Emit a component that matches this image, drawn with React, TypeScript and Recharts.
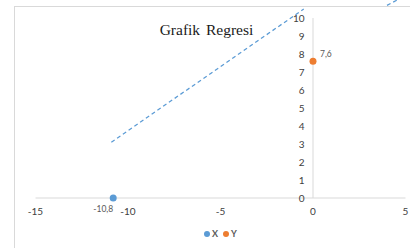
import React from 'react';
import { ComposedChart, Scatter, XAxis, YAxis, Legend } from 'recharts';

const title = 'Grafik Regresi';
const seriesNames = ['X', 'Y'];
const xSeries = [{ x: -10.8, y: 0 }];
const ySeries = [{ x: 0, y: 7.6 }];
const trendLine = [
  { x: -10.9, y: 3.1 },
  { x: -0.5, y: 10.5 },
];
const trendLine2 = [
  { x: 4.0, y: 10.7 },
  { x: 4.55, y: 11.0 },
];
const xTicks = [-15, -10, -5, 0, 5];
const yTicks = [0, 1, 2, 3, 4, 5, 6, 7, 8, 9, 10];
const yTickPoints = yTicks.map((v) => ({ x: 0, y: v }));
const yAxisSegment = [
  { x: 0, y: yTicks[0] },
  { x: 0, y: yTicks[yTicks.length - 1] },
];

const BLUE = '#5b9bd5';
const ORANGE = '#ed7d31';
const GRID = '#d9d9d9';
const TEXT = '#595959';
const FONT = 'Lato, "Open Sans", sans-serif';

const fmt = (v: number) => String(v).replace('.', ',');

const Empty = () => <g />;

export default function App() {
  return (
    <div style={{ position: 'absolute', left: 0, top: 0, width: 410, height: 248, overflow: 'hidden', background: '#fff' }}>
      <div
        style={{
          position: 'absolute',
          left: 14,
          top: 6,
          width: 420,
          height: 260,
          border: `1px solid ${GRID}`,
          boxSizing: 'border-box',
        }}
      />
      <div
        style={{
          position: 'absolute',
          left: 0,
          top: 21,
          width: 413,
          textAlign: 'center',
          fontFamily: '"Liberation Serif", "Times New Roman", serif',
          fontSize: 15.5,
          lineHeight: '18px',
          color: '#1a1a1a',
          wordSpacing: 2,
        }}
      >
        {title}
      </div>
      <div style={{ position: 'absolute', left: 0, top: 0 }}>
        <ComposedChart width={410} height={248} margin={{ top: 0, right: 4.5, bottom: 30, left: 35.5 }}>
          <XAxis
            dataKey="x"
            type="number"
            domain={[-15, 5]}
            ticks={xTicks}
            interval={0}
            tickLine={false}
            axisLine={{ stroke: GRID }}
            tick={{ fontSize: 10, fill: '#404040', fontFamily: FONT }}
            tickMargin={4}
            height={20}
          />
          <YAxis dataKey="y" type="number" domain={[0, 11]} hide />
          <Scatter
            data={yAxisSegment}
            legendType="none"
            isAnimationActive={false}
            line={{ stroke: GRID, strokeWidth: 1 }}
            shape={Empty}
          />
          <Scatter
            data={yTickPoints}
            legendType="none"
            isAnimationActive={false}
            shape={(p: any) => (
              <text
                x={p.cx - 8.5}
                y={p.cy}
                textAnchor="end"
                dominantBaseline="central"
                fontSize={10}
                fontFamily={FONT}
                fill="#404040"
              >
                {p.payload.y}
              </text>
            )}
          />
          <Scatter
            data={trendLine}
            legendType="none"
            isAnimationActive={false}
            line={{ stroke: BLUE, strokeWidth: 1.25, strokeDasharray: '4 3' }}
            shape={Empty}
          />
          <Scatter
            data={trendLine2}
            legendType="none"
            isAnimationActive={false}
            line={{ stroke: BLUE, strokeWidth: 1.25, strokeDasharray: '4 3' }}
            shape={Empty}
          />
          <Scatter
            name={seriesNames[0]}
            data={xSeries}
            fill={BLUE}
            isAnimationActive={false}
            shape={(p: any) => (
              <g>
                <circle cx={p.cx} cy={p.cy} r={3.5} fill={BLUE} />
                <text x={p.cx} y={p.cy + 14} textAnchor="end" fontSize={8.5} fontFamily={FONT} fill={TEXT}>
                  {fmt(p.payload.x)}
                </text>
              </g>
            )}
          />
          <Scatter
            name={seriesNames[1]}
            data={ySeries}
            fill={ORANGE}
            isAnimationActive={false}
            shape={(p: any) => (
              <g>
                <circle cx={p.cx} cy={p.cy} r={3.5} fill={ORANGE} />
                <text x={p.cx + 7} y={p.cy - 4.5} textAnchor="start" fontSize={8.5} fontFamily={FONT} fill={TEXT}>
                  {fmt(p.payload.y)}
                </text>
              </g>
            )}
          />
          <Legend
            verticalAlign="middle"
            align="center"
            layout="horizontal"
            wrapperStyle={{ top: 228, left: 204, width: 80, height: 12 }}
            content={(props: any) => (
              <div
                style={{
                  display: 'flex',
                  alignItems: 'center',
                  fontFamily: FONT,
                  fontSize: 9,
                  fontWeight: 700,
                  color: TEXT,
                  lineHeight: '12px',
                  height: 12,
                }}
              >
                {(props.payload || []).map((e: any, i: number) => (
                  <span key={i} style={{ display: 'flex', alignItems: 'center', marginRight: 5 }}>
                    <span
                      style={{
                        display: 'inline-block',
                        width: 6,
                        height: 6,
                        borderRadius: 3,
                        background: e.color,
                        marginRight: 2,
                      }}
                    />
                    {e.value}
                  </span>
                ))}
              </div>
            )}
          />
        </ComposedChart>
      </div>
    </div>
  );
}
